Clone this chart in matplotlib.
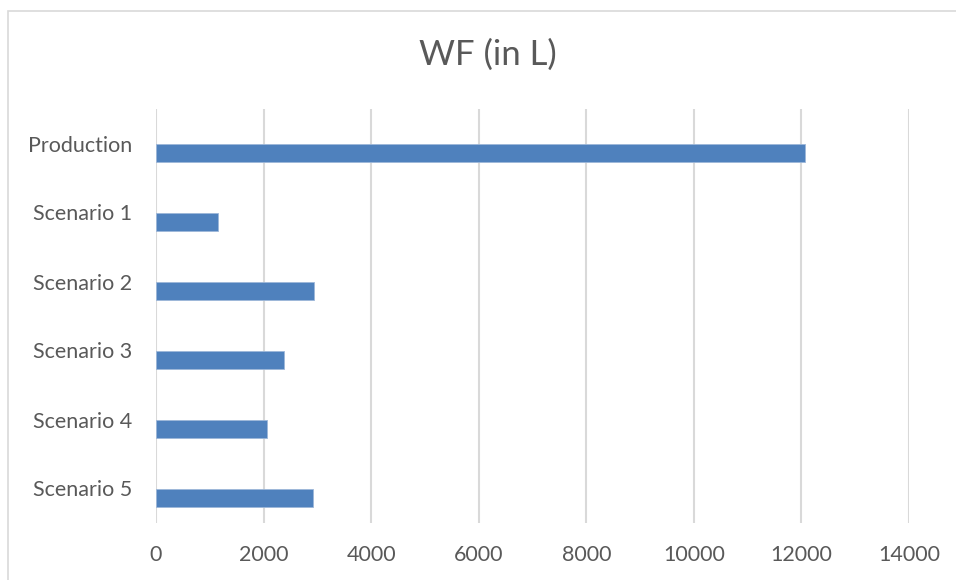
import matplotlib.pyplot as plt
from matplotlib.patches import Rectangle

# Water footprint per case
categories = ['Production', 'Scenario 1', 'Scenario 2', 'Scenario 3', 'Scenario 4', 'Scenario 5']
wf_litres = [12070, 1150, 2940, 2375, 2065, 2925]
x_ticks = [0, 2000, 4000, 6000, 8000, 10000, 12000, 14000]

plt.rcParams['font.family'] = ['Lato', 'DejaVu Sans']
text_grey = '#595959'

fig = plt.figure(figsize=(9.56, 5.80), dpi=100)
ax = fig.add_axes([156 / 956, 1 - 523 / 580, (909 - 156) / 956, (523 - 109) / 580])

# chart frame (runs off the right and bottom edges)
fig.patches.append(Rectangle((8 / 956, -0.1), 1.2, 1 - 10.5 / 580 + 0.1,
                             transform=fig.transFigure, fill=False,
                             edgecolor='#d9d9d9', linewidth=1.2))

pos = list(range(len(categories)))
ax.barh([p + 0.135 for p in pos], wf_litres, height=0.26,
        color='#4f81bd', edgecolor='#9db7d9', linewidth=0.6, zorder=3)

ax.set_xlim(0, 14000)
ax.set_ylim(len(categories) - 0.5, -0.5)
ax.set_xticks(x_ticks)
ax.set_xticklabels([str(t) for t in x_ticks])
ax.set_yticks(pos)
ax.set_yticklabels(categories)
ax.tick_params(axis='both', length=0, labelsize=15.5, labelcolor=text_grey)
ax.tick_params(axis='x', pad=16)
ax.tick_params(axis='y', pad=17)

ax.grid(axis='x', color='#d9d9d9', linewidth=1.5, zorder=0)
for s in ax.spines.values():
    s.set_visible(False)

fig.text(488 / 956, 1 - 55 / 580, 'WF (in L)', ha='center', va='center',
         fontsize=25, color=text_grey)

fig.savefig('out.png', dpi=100)
